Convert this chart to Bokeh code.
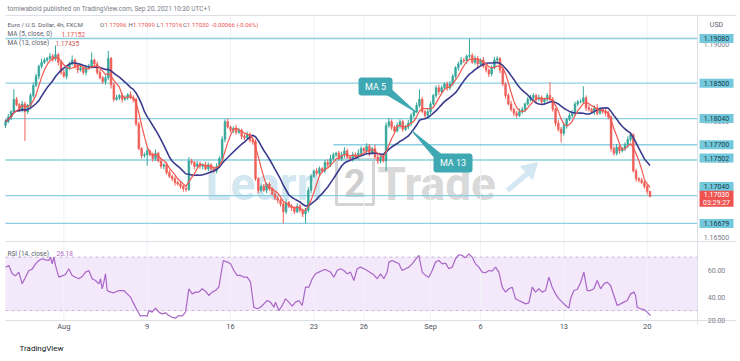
import numpy as np
import pandas as pd
from bokeh.plotting import figure
from bokeh.models import Range1d, FixedTicker, Title
from bokeh.core.properties import value
from bokeh.embed import file_html
from bokeh.resources import INLINE

# ---------------- data ----------------
first_open = 1.1795
close = [
    1.1800, 1.1806, 1.1813, 1.1829, 1.1822, 1.1816, 1.1823, 1.1813, 1.1821, 1.1834,
    1.1847, 1.1859, 1.1872, 1.1877, 1.1880, 1.1882, 1.1885, 1.1882, 1.1887, 1.1877,
    1.1864, 1.1859, 1.1870, 1.1875, 1.1880, 1.1872, 1.1867, 1.1870, 1.1864, 1.1870,
    1.1872, 1.1880, 1.1875, 1.1864, 1.1857, 1.1852, 1.1857, 1.1882, 1.1848, 1.1829,
    1.1831, 1.1834, 1.1829, 1.1831, 1.1835, 1.1831, 1.1829, 1.1797, 1.1765, 1.1756,
    1.1757, 1.1762, 1.1757, 1.1752, 1.1759, 1.1749, 1.1742, 1.1744, 1.1734, 1.1729,
    1.1726, 1.1721, 1.1719, 1.1716, 1.1713, 1.1712, 1.1749, 1.1747, 1.1742, 1.1745,
    1.1742, 1.1744, 1.1739, 1.1744, 1.1739, 1.1736, 1.1742, 1.1752, 1.1777, 1.1800,
    1.1793, 1.1789, 1.1791, 1.1786, 1.1789, 1.1781, 1.1779, 1.1784, 1.1776, 1.1774,
    1.1726, 1.1711, 1.1716, 1.1711, 1.1719, 1.1713, 1.1706, 1.1701, 1.1698, 1.1693,
    1.1683, 1.1695, 1.1690, 1.1688, 1.1683, 1.1690, 1.1685, 1.1680, 1.1685, 1.1711,
    1.1729, 1.1736, 1.1733, 1.1739, 1.1736, 1.1747, 1.1744, 1.1752, 1.1757, 1.1759,
    1.1752, 1.1757, 1.1762, 1.1754, 1.1752, 1.1757, 1.1754, 1.1759, 1.1765, 1.1762,
    1.1768, 1.1759, 1.1765, 1.1754, 1.1749, 1.1754, 1.1749, 1.1795, 1.1800, 1.1793,
    1.1788, 1.1795, 1.1800, 1.1790, 1.1793, 1.1798, 1.1808, 1.1813, 1.1821, 1.1829,
    1.1813, 1.1808, 1.1813, 1.1823, 1.1834, 1.1844, 1.1839, 1.1844, 1.1849, 1.1844,
    1.1849, 1.1859, 1.1870, 1.1875, 1.1880, 1.1879, 1.1885, 1.1886, 1.1877, 1.1882,
    1.1875, 1.1880, 1.1872, 1.1867, 1.1862, 1.1870, 1.1880, 1.1882, 1.1867, 1.1849,
    1.1834, 1.1823, 1.1816, 1.1811, 1.1808, 1.1813, 1.1816, 1.1823, 1.1829, 1.1831,
    1.1834, 1.1829, 1.1831, 1.1826, 1.1829, 1.1834, 1.1829, 1.1816, 1.1798, 1.1790,
    1.1785, 1.1795, 1.1803, 1.1808, 1.1811, 1.1823, 1.1826, 1.1826, 1.1831, 1.1818,
    1.1816, 1.1813, 1.1818, 1.1811, 1.1816, 1.1813, 1.1811, 1.1806, 1.1765, 1.1759,
    1.1767, 1.1762, 1.1765, 1.1770, 1.1777, 1.1783, 1.1736, 1.1726, 1.1724, 1.1721,
    1.1716, 1.17096, 1.17030,
]
up_wick_pips = [
    3, 4, 2, 13, 3, 2, 4, 3, 2, 3,   4, 3, 2, 5, 3, 2, 4, 3, 12, 2,
    3, 4, 2, 3, 6, 2, 3, 4, 2, 3,    3, 10, 2, 3, 4, 2, 3, 10, 2, 3,
    4, 2, 3, 3, 2, 4, 3, 2, 3, 2,    3, 4, 2, 3, 5, 2, 3, 2, 4, 3,
    2, 3, 2, 3, 2, 3, 5, 3, 2, 4,    3, 2, 4, 3, 2, 3, 4, 3, 4, 3,
    4, 2, 3, 5, 3, 2, 4, 3, 2, 3,    3, 2, 4, 3, 2, 3, 2, 4, 3, 2,
    3, 4, 2, 3, 2, 4, 3, 2, 3, 4,    3, 2, 4, 3, 2, 3, 4, 5, 3, 2,
    3, 4, 5, 3, 2, 4, 3, 5, 3, 2,    4, 3, 2, 5, 3, 2, 3, 4, 5, 3,
    2, 4, 3, 2, 3, 4, 3, 2, 4, 13,   3, 2, 4, 3, 2, 3, 4, 3, 2, 3,
    4, 3, 2, 3, 4, 3, 2, 22, 3, 4,   3, 2, 4, 3, 2, 3, 4, 3, 2, 3,
    2, 3, 4, 2, 3, 4, 3, 2, 3, 4,    3, 2, 4, 3, 2, 3, 17, 3, 2, 4,
    3, 4, 2, 3, 4, 3, 2, 3, 15, 3,   4, 2, 3, 5, 3, 2, 4, 3, 2, 3,
    4, 3, 2, 3, 4, 3, 2, 3, 2, 3,    2, 3, 0.3,
]
low_wick_pips = [
    3, 2, 4, 3, 2, 3, 4, 38, 3, 2,   3, 2, 4, 3, 2, 3, 2, 4, 3, 4,
    3, 2, 4, 3, 2, 3, 4, 2, 3, 4,    2, 3, 4, 3, 2, 3, 4, 3, 5, 3,
    2, 3, 4, 2, 3, 2, 4, 3, 2, 4,    3, 14, 2, 4, 3, 2, 3, 4, 3, 2,
    3, 4, 2, 3, 4, 3, 2, 3, 4, 2,    3, 4, 2, 3, 4, 2, 3, 2, 3, 4,
    2, 3, 4, 3, 2, 4, 3, 2, 3, 4,    3, 4, 3, 2, 4, 3, 2, 3, 4, 3,
    15, 3, 2, 4, 3, 2, 3, 4, 12, 3,  4, 2, 3, 4, 2, 3, 4, 3, 2, 3,
    2, 3, 4, 2, 3, 4, 2, 3, 4, 2,    3, 4, 2, 3, 4, 3, 2, 13, 3, 4,
    3, 2, 4, 3, 2, 3, 4, 3, 2, 3,    2, 3, 4, 3, 2, 3, 4, 2, 3, 4,
    3, 2, 3, 4, 2, 3, 4, 3, 2, 3,    4, 3, 2, 3, 4, 3, 2, 3, 4, 3,
    4, 2, 3, 4, 3, 2, 3, 4, 2, 3,    3, 4, 2, 3, 4, 3, 2, 3, 4, 3,
    12, 3, 4, 2, 3, 4, 3, 2, 3, 4,   3, 2, 4, 3, 2, 3, 4, 3, 4, 3,
    3, 4, 2, 3, 4, 3, 2, 4, 3, 2,    3, 4, 1.4,
]

rsi_idx = [
    0, 1.2, 2.4, 3.6, 4.8, 6, 7.2, 8.4, 9.6, 10.8, 12, 13.2, 14.4, 15.6, 16.2, 16.8, 17.4, 18,
    19.2, 20.4, 21.6, 22.8, 24, 25.2, 26.4, 27.6, 28.8, 30, 31.2, 32.4, 33.6, 34.2, 34.8, 35.4,
    36, 36.6, 37.8, 39, 40.2, 41.4, 42.6, 43.8, 45, 46.2, 47.4, 48.6, 49.8, 51, 51.6, 52.8, 54,
    55.2, 56.4, 57.6, 58.8, 60, 61.2, 62.4, 63.6, 64.8, 66, 67.2, 68.4, 69.6, 70.8, 72, 73.2,
    74.4, 75.6, 76.8, 78.4, 79.8, 81, 82.2, 83.4, 84.6, 85.8, 87, 88.2, 89.4, 90.6, 91.8, 93,
    94.2, 95.4, 96.6, 97.2, 98.4, 99.6, 100.8, 102, 103.2, 104.4, 105.6, 106.8, 108, 109.2,
    110.4, 111.6, 112.8, 114, 115.2, 116.4, 117, 118.2, 119.4, 120.6, 121.8, 123, 124.2, 125.4,
    126.6, 127.8, 129, 130.2, 131.4, 132.6, 133.8, 135, 136.2, 137.4, 138, 139.2, 140.4, 141.6,
    142.8, 144, 145.2, 146.4, 147.6, 148.8, 150, 151.2, 152.4, 153.6, 154.8, 156, 157.2, 158.4,
    159.6, 160.8, 162, 163.2, 164.4, 165.6, 166.8, 168, 169.2, 170.4, 171.6, 172.8, 174, 175.2,
    176.4, 177.6, 178.8, 180, 181.2, 182.4, 183.6, 184.8, 186, 187.2, 188.4, 189.6, 190.8, 192,
    193.2, 194.4, 195.6, 196.8, 198, 199.2, 200.4, 201.6, 202.8, 203.4, 204.6, 205.8, 207,
    208.2, 209.4, 210.6, 211.8, 213, 214.2, 215.4, 216.6, 217.8, 219, 220.2, 221.4, 222.6,
    223.8, 225, 226.2, 226.8, 227.4, 228.6, 229.8, 231, 232.2,
]
rsi_val = [
    62.5, 63.8, 57.5, 56, 58.8, 50, 55, 60, 61, 65, 67.5, 68.8, 68, 67.5, 70, 65, 70, 63.8,
    55, 56, 57, 61.3, 56.3, 55, 53.8, 55.5, 58.8, 60, 53.8, 52.5, 50, 53.8, 46.3, 51.3,
    57.5, 45, 43.8, 43.3, 44.5, 45, 45, 42.5, 40, 35, 30, 25.8, 26.3, 25.8, 30, 28.8, 31.8,
    28.8, 27.5, 28.3, 26.3, 25, 24.3, 26.3, 25.8, 28.8, 46.3, 42.5, 43.8, 43.8, 46.3, 44.5, 41.3,
    43.8, 45, 47.5, 67.5, 66.3, 65, 60, 56.3, 56.3, 55, 55, 51.3, 32.5, 31.3, 32.5, 35,
    37.5, 36.3, 32.5, 36.3, 30, 33.8, 38.8, 36.3, 33.3, 36.3, 37.5, 33.8, 47.5, 47.5,
    53.8, 57.5, 58.8, 60, 60.8, 59.5, 58.8, 55, 60, 61.3, 60, 57.5, 58.8, 52.5,
    61.3, 62.5, 61.3, 60, 58.3, 56.8, 53.8, 57.5, 53.8, 58.8, 66.3, 67.5, 66.3, 65,
    60, 61.3, 62.5, 65, 68.3, 71.3, 58.8, 56.3, 55, 60, 66.3, 67.5, 65, 65.5,
    61.3, 62.5, 68.8, 71.8, 71.3, 69.5, 72.5, 70, 65, 62.5, 58.8, 58.3, 60, 59.5,
    62.5, 58.8, 47.5, 43.8, 46.3, 47.5, 38.8, 37.5, 36.3, 35, 35.8, 47.5, 43.8, 46.3,
    43.8, 45, 55, 47.5, 42.5, 38.8, 36.3, 33.8, 31.8, 38.8, 45, 45.8, 50.8,
    58.8, 45, 45, 46.3, 52.5, 46.3, 50, 51.3, 48.8, 41.3, 33.8, 35, 36.3,
    37.5, 42.5, 43.8, 41.3, 32.5, 31.3, 30.8, 28.8, 26.18,
]

date_tick_idx = [21, 51, 81, 111, 129, 153, 171, 201, 231]
date_tick_labels = ["Aug", "9", "16", "23", "26", "Sep", "6", "13", "20"]

levels = [1.19080, 1.18500, 1.18040, 1.17700, 1.17502, 1.17040, 1.16679]
level_text = ["1.19080", "1.18500", "1.18040", "1.17700", "1.17502", "1.17040", "1.16679"]
level_from_idx = [None, None, None, 118, None, None, None]
level_label_shift_px = [0, 0, 0, 0, -2, -9, 0]

price_ticks = [1.19000, 1.18500, 1.18000, 1.17500, 1.17000, 1.16500]
price_tick_text = ["1.19000", "1.18500", "1.18000", "1.17500", "1.17000", "1.16500"]
rsi_ticks = [60, 40, 20]
rsi_tick_text = ["60.00", "40.00", "20.00"]
rsi_bands = [70, 30]

last_price = 1.17030
last_price_text = "1.17030"
countdown = "03:29:27"

header = "tomiwabold published on TradingView.com, Sep 20, 2021 10:30 UTC+1"
symbol = "Euro / U.S. Dollar, 4h, FXCM"
ohlc_keys = ["O", "H", "L", "C"]
ohlc_text = ["1.17096", "1.17099", "1.17016", "1.17030"]
change_text = "-0.00066 (-0.06%)"
ma5_label, ma5_last = "MA (5, close, 0)", "1.17152"
ma13_label, ma13_last = "MA (13, close)", "1.17435"
rsi_label, rsi_last = "RSI (14, close)", "26.18"

# ---------------- styles / layout (page pixels) ----------------
UP, DOWN = "#35a89b", "#ef5e58"
MA5_C, MA13_C = "#f2574f", "#3b3b8e"
LEVEL_C, LABEL_BG, LABEL_TXT = "#8ad0e1", "#74c8db", "#143f4f"
RSI_C, BAND_FILL, BAND_LINE = "#a866c6", "#f4e8fb", "#c8b4d8"
SEP_C = "#dcdfe6"
FONT = value("Roboto")

W, H = 740, 361
FRAME_BOTTOM = 324
X0, DX = 5.0, 2.778           # page x of candle 0, px per candle
def ix(px):
    return (px - X0) / DX
P0, PY0, KP = 1.19080, 38.0, 7700.0
def py(pg):
    return P0 - (pg - PY0) / KP
R0, RY0, KR = 60.0, 270.0, 1.335
def ry(pg):
    return R0 - (pg - RY0) / KR

# ---------------- derived ----------------
n = len(close)
idx = np.arange(n)
c = np.array(close)
o = np.concatenate([[first_open], c[:-1]])
pip = 0.0001
top = np.maximum(o, c)
bot = np.minimum(o, c)
hi = top + np.array(up_wick_pips) * pip
lo = bot - np.array(low_wick_pips) * pip
cols = np.where(c >= o, UP, DOWN)
ma5 = pd.Series(c).rolling(5, min_periods=1).mean().values
ma13 = pd.Series(c).rolling(13, min_periods=1).mean().values

p = figure(width=W, height=H,
           x_range=Range1d(ix(0), ix(W)), y_range=Range1d(py(FRAME_BOTTOM), py(0)),
           output_backend="svg", toolbar_location=None, y_axis_location=None,
           min_border_left=0, min_border_right=0, min_border_top=0,
           min_border_bottom=H - FRAME_BOTTOM,
           background_fill_color="white", border_fill_color="white", outline_line_color=None)
p.extra_y_ranges = {"rsi": Range1d(ry(FRAME_BOTTOM), ry(0))}
p.grid.grid_line_color = None

xa = p.xaxis[0]
xa.ticker = FixedTicker(ticks=date_tick_idx)
xa.major_label_overrides = {t: l for t, l in zip(date_tick_idx, date_tick_labels)}
xa.major_tick_line_color = None
xa.major_tick_out = 0
xa.major_tick_in = 0
xa.minor_tick_line_color = None
xa.axis_line_color = None
xa.major_label_text_font = "Roboto"
xa.major_label_text_font_size = "7.5px"
xa.major_label_text_color = "#50535e"
xa.major_label_standoff = -3

p.add_layout(Title(text="TradingView", align="left", text_font="Roboto", text_font_size="8px",
                   text_font_style="normal", text_color="#131722", offset=19, standoff=17), "below")

# watermark
p.text(x=[ix(205)], y=[py(183)], text=["Learn"], text_font=FONT, text_font_size="46px",
       text_font_style="bold", text_color="#d3e7f0", text_align="left", text_baseline="middle")
p.quad(left=[ix(336)], right=[ix(373)], top=[py(159)], bottom=[py(204)], fill_color=None,
       line_color="#d4d4d4", line_width=3)
p.text(x=[ix(354.5)], y=[py(182)], text=["2"], text_font=FONT, text_font_size="38px",
       text_font_style="bold", text_color="#cfcfcf", text_align="center", text_baseline="middle")
p.text(x=[ix(377)], y=[py(183)], text=["Trade"], text_font=FONT, text_font_size="46px",
       text_font_style="bold", text_color="#d9d9d9", text_align="left", text_baseline="middle")
p.line(x=[ix(507), ix(527)], y=[py(190), py(173)], line_color="#d3e8f2", line_width=5)
p.patch(x=[ix(520), ix(537), ix(532)], y=[py(166), py(162), py(179)], color="#d3e8f2")

# RSI band
p.quad(left=[ix(5)], right=[ix(697)], bottom=[rsi_bands[1]], top=[rsi_bands[0]],
       fill_color=BAND_FILL, line_color=None, y_range_name="rsi")

# vertical date grid
p.segment(x0=date_tick_idx, x1=date_tick_idx, y0=[py(16)] * len(date_tick_idx),
          y1=[py(320)] * len(date_tick_idx), line_color="#f0f2f6", line_width=1)

# level lines
for lv, start in zip(levels, level_from_idx):
    x_start = ix(5) if start is None else start
    p.segment(x0=[x_start], x1=[ix(697)], y0=[lv], y1=[lv], line_color=LEVEL_C, line_width=1.4)

# candles
p.segment(x0=idx, x1=idx, y0=lo, y1=hi, line_color=cols, line_width=1)
p.vbar(x=idx, width=0.62, top=top, bottom=bot, fill_color=cols, line_color=cols, line_width=0.6)

# moving averages
p.line(idx, ma13, line_color=MA13_C, line_width=1.6)
p.line(idx, ma5, line_color=MA5_C, line_width=1.2)

# RSI
for b in rsi_bands:
    p.segment(x0=[ix(5)], x1=[ix(697)], y0=[b], y1=[b], line_color=BAND_LINE, line_width=1,
              line_dash="3 3", y_range_name="rsi")
p.line(rsi_idx, rsi_val, line_color=RSI_C, line_width=1.2, y_range_name="rsi")

# pane borders
p.segment(x0=[ix(5), ix(5), ix(5)], x1=[ix(736), ix(736), ix(736)],
          y0=[py(15), py(241), py(320)], y1=[py(15), py(241), py(320)],
          line_color=SEP_C, line_width=1)
p.segment(x0=[ix(697)], x1=[ix(697)], y0=[py(15)], y1=[py(FRAME_BOTTOM)], line_color=SEP_C, line_width=1)

# price scale
AX = ix(716)
p.text(x=[AX], y=[py(24)], text=["USD"], text_font=FONT, text_font_size="7px", text_color="#5d606b",
       text_align="center", text_baseline="middle")
p.text(x=[AX] * len(price_ticks), y=price_ticks, text=price_tick_text, text_font=FONT,
       text_font_size="7px", text_color="#7a7d87", text_align="center", text_baseline="middle")
lab_y = [lv - s / KP for lv, s in zip(levels, level_label_shift_px)]
p.rect(x=[AX] * len(levels), y=lab_y, width=34, height=9, width_units="screen", height_units="screen",
       fill_color=LABEL_BG, line_color=None)
p.text(x=[AX] * len(levels), y=lab_y, text=level_text, text_font=FONT, text_font_size="7px",
       text_color=LABEL_TXT, text_align="center", text_baseline="middle")
red_c = last_price - 2.3 / KP
p.rect(x=[AX], y=[red_c], width=34, height=16, width_units="screen", height_units="screen",
       fill_color="#ef5350", line_color=None)
p.text(x=[AX, AX], y=[last_price + 1.6 / KP, last_price - 6.2 / KP], text=[last_price_text, countdown],
       text_font=FONT, text_font_size="7px", text_color="white", text_align="center", text_baseline="middle")
# the lowest RSI scale label sits on the pane's bottom edge, as in the original
rsi_lab_y = [max(t, ry(FRAME_BOTTOM - 4.5)) for t in rsi_ticks]
p.text(x=[AX] * len(rsi_ticks), y=rsi_lab_y, text=rsi_tick_text, text_font=FONT, text_font_size="7px",
       text_color="#7a7d87", text_align="center", text_baseline="middle", y_range_name="rsi")

# legends
def txt(px, pg, s, color, size="6.5px", rng=None):
    kw = dict(text_font=FONT, text_font_size=size, text_color=color, text_align="left",
              text_baseline="middle")
    if rng:
        p.text(x=[ix(px)], y=[ry(pg)], text=[s], y_range_name=rng, **kw)
    else:
        p.text(x=[ix(px)], y=[py(pg)], text=[s], **kw)

GRAY, RED = "#5d606b", "#ef5350"
txt(7, 8.5, header, "#787b86")
txt(7, 24, symbol, GRAY, size="6.2px")
for kx, vx, k, v in zip([99.5, 128, 156, 182.5], [104, 132.5, 160, 186.5], ohlc_keys, ohlc_text):
    txt(kx, 24, k, GRAY, size="6px")
    txt(vx, 24, v, RED, size="6px")
txt(211, 24, change_text, RED, size="6px")
txt(7, 33.5, ma5_label, GRAY)
txt(61, 33.5, ma5_last, RED)
txt(7, 42.5, ma13_label, GRAY)
txt(55, 42.5, ma13_last, "#c9554f")
txt(7, 253, rsi_label, GRAY, rng="rsi")
txt(56, 253, rsi_last, "#b05fbf", rng="rsi")

# callouts
CALL_C = "#3ea8b3"
boxes = [(358, 77, 392, 95, "MA 5"), (433, 153, 472, 172, "MA 13")]
tails = [[(386, 94), (392, 90), (416, 112)], [(411, 130), (433, 156), (441, 154)]]
for tail in tails:
    p.patch(x=[ix(a) for a, b in tail], y=[py(b) for a, b in tail], color=CALL_C)
for l, t, r, b, s in boxes:
    try:
        p.quad(left=[ix(l)], right=[ix(r)], top=[py(t)], bottom=[py(b)], fill_color=CALL_C,
               line_color=None, border_radius=3)
    except Exception:
        p.quad(left=[ix(l)], right=[ix(r)], top=[py(t)], bottom=[py(b)], fill_color=CALL_C,
               line_color=None)
    p.text(x=[ix((l + r) / 2)], y=[py((t + b) / 2)], text=[s], text_font=FONT, text_font_size="9px",
           text_color="white", text_align="center", text_baseline="middle")

open("out.html", "w").write(file_html(p, INLINE))
